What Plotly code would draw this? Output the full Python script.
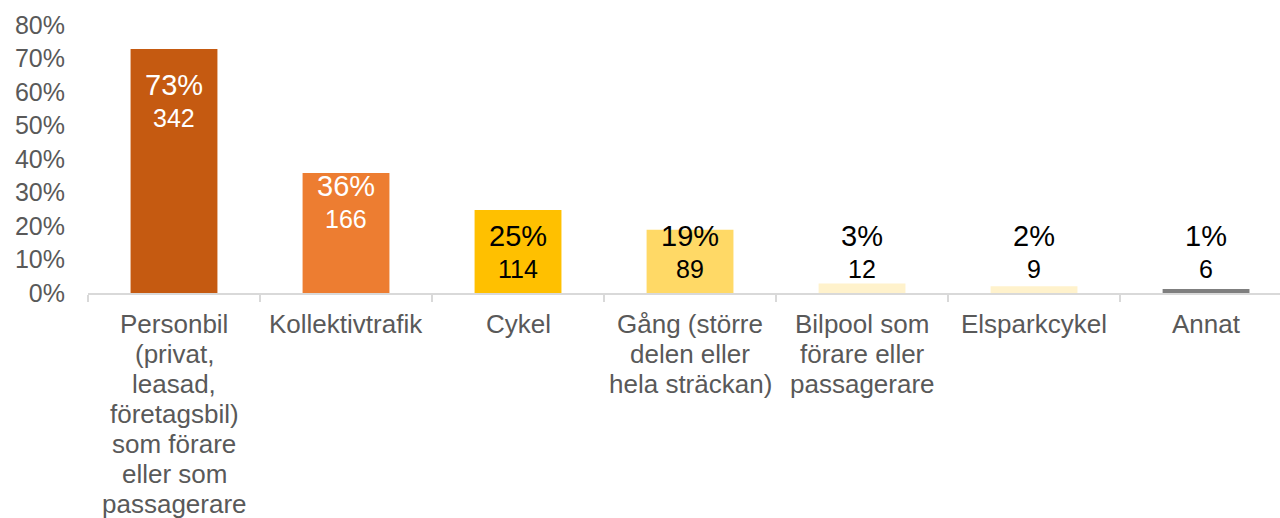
import plotly.graph_objects as go

categories = [
    "Personbil<br>(privat,<br>leasad,<br>företagsbil)<br>som förare<br>eller som<br>passagerare",
    "Kollektivtrafik",
    "Cykel",
    "Gång (större<br>delen eller<br>hela sträckan)",
    "Bilpool som<br>förare eller<br>passagerare",
    "Elsparkcykel",
    "Annat",
]
share_pct = [72.8, 35.8, 24.8, 18.9, 2.8, 2.0, 1.2]
pct_labels = ["73%", "36%", "25%", "19%", "3%", "2%", "1%"]
count_labels = ["342", "166", "114", "89", "12", "9", "6"]
y_ticks = [0, 10, 20, 30, 40, 50, 60, 70, 80]

# styling
bar_colors = ["#C55A11", "#ED7D31", "#FFC000", "#FFD966", "#FFF2CC", "#FFF2CC", "#7F7F7F"]
label_colors = ["white", "white", "black", "black", "black", "black", "black"]
label_anchor = [62.0, 31.9, 17.0, 17.0, 17.0, 17.0, 17.0]  # where pct label sits (axis units)
FONT = "Liberation Sans, Arial, sans-serif"
GRAY = "#595959"

x_idx = list(range(len(categories)))
boundaries = [i - 0.5 for i in x_idx]

fig = go.Figure()
fig.add_trace(go.Bar(
    x=x_idx, y=share_pct, width=0.505,
    marker=dict(color=bar_colors, line=dict(width=0)),
    hoverinfo="skip",
))

annotations = []
for i in x_idx:
    annotations.append(dict(
        x=i, y=label_anchor[i], xref="x", yref="y", text=pct_labels[i],
        showarrow=False, yanchor="middle",
        font=dict(family=FONT, size=29, color=label_colors[i]),
    ))
    annotations.append(dict(
        x=i, y=label_anchor[i], xref="x", yref="y", text=count_labels[i],
        showarrow=False, yanchor="middle", yshift=-33,
        font=dict(family=FONT, size=25, color=label_colors[i]),
    ))
    for j, line in enumerate(categories[i].split("<br>")):
        annotations.append(dict(
            x=i, y=0, xref="x", yref="paper", text=line,
            showarrow=False, yanchor="middle", yshift=-(31 + 30 * j),
            font=dict(family=FONT, size=26, color=GRAY),
        ))

fig.update_layout(
    width=1280, height=518,
    margin=dict(l=88, r=0, t=25, b=225),
    paper_bgcolor="white", plot_bgcolor="white",
    showlegend=False,
    annotations=annotations,
    xaxis=dict(
        range=[-0.5, 6.43], showticklabels=False, showgrid=False, zeroline=False,
        showline=True, linecolor="#D9D9D9", linewidth=1.5,
        ticks="outside", ticklen=7, tickcolor="#D9D9D9", tickwidth=1.5,
        tickmode="array", tickvals=boundaries, fixedrange=True,
    ),
    yaxis=dict(
        range=[0, 80], tickmode="array", tickvals=y_ticks,
        ticktext=[f"{v}%" for v in y_ticks],
        showgrid=False, zeroline=False, showline=False, ticks="",
        ticklabelstandoff=22,
        tickfont=dict(family=FONT, size=25, color=GRAY), fixedrange=True,
    ),
)

fig.write_html(
    "out.html",
    config={"displayModeBar": False},
    post_script="document.body.style.margin='0';document.body.style.overflow='hidden';",
)
